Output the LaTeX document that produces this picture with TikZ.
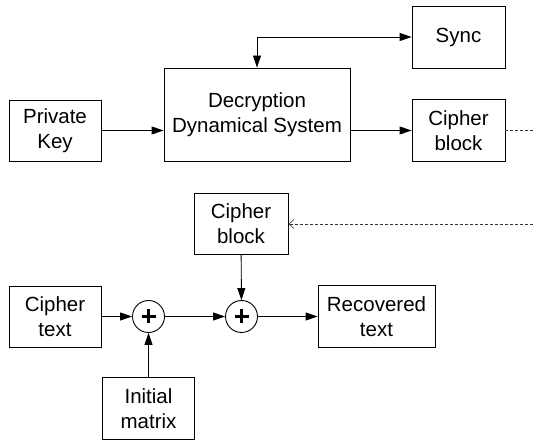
\documentclass[tikz,border=0pt]{standalone}
\usepackage{fontspec}
\setmainfont{Liberation Sans}
\usetikzlibrary{arrows.meta}
\tikzset{
  box/.style={draw, line width=0.9pt, rectangle, inner sep=0pt, align=center,
    font=\fontsize{20.5}{25}\selectfont, minimum height=62pt},
  xorc/.style={draw, line width=0.9pt, circle, minimum size=32pt, inner sep=0pt},
  arr/.style={line width=0.9pt, -{Triangle[length=12pt,width=8pt]}},
  darr/.style={line width=0.9pt, {Triangle[length=12pt,width=8pt]}-{Triangle[length=12pt,width=8pt]}},
  dashln/.style={line width=0.6pt, dash pattern=on 3pt off 2pt, draw=black!80},
  dasharr/.style={dashln, -{Straight Barb[length=5pt,width=9pt,line width=0.6pt]}},
}
\begin{document}
\begin{tikzpicture}[x=1pt,y=-1pt]
\useasboundingbox (0,0) rectangle (533,443);
\node[box, minimum width=92pt, minimum height=61pt] (pk) at (55,130.5) {Private\\Key};
\node[box, minimum width=186pt, minimum height=93pt] (dec) at (257,114.5) {Decryption\\Dynamical System};
\node[box, minimum width=93pt] (sync) at (458.5,37) {Sync};
\node[box, minimum width=93pt] (cb1) at (458.5,130.5) {Cipher\\block};
\node[box, minimum width=94pt, minimum height=61pt] (cb2) at (241,224) {Cipher\\block};
\node[box, minimum width=92pt, minimum height=61pt] (ct) at (55,316.5) {Cipher\\text};
\node[xorc] (x1) at (148.5,316.5) {};
\node[xorc] (x2) at (241.5,316.5) {};
\node[box, minimum width=117pt] (rt) at (376.5,316.5) {Recovered\\text};
\node[box, minimum width=92pt] (im) at (148.5,408.5) {Initial\\matrix};
\foreach \c in {x1,x2}{
  \draw[line width=2.4pt] ([xshift=-7pt]\c.center) -- ([xshift=7pt]\c.center);
  \draw[line width=2.4pt] ([yshift=-7pt]\c.center) -- ([yshift=7pt]\c.center);
}
\coordinate (e1) at (533,130.5);
\coordinate (e2) at (533,224);
\draw[arr] (pk.east) -- (pk.east -| dec.west);
\draw[arr] (dec.east |- cb1.west) -- (cb1.west);
\draw[darr] (dec.north) |- (sync.west);
\draw[dashln] (cb1.east) -- (e1);
\draw[dasharr] (e2) -- (cb2.east);
\draw[arr] (ct) -- (x1);
\draw[arr] (im) -- (x1);
\draw[arr] (x1) -- (x2);
\draw[arr] (cb2) -- (x2);
\draw[arr] (x2) -- (rt);
\end{tikzpicture}
\end{document}
